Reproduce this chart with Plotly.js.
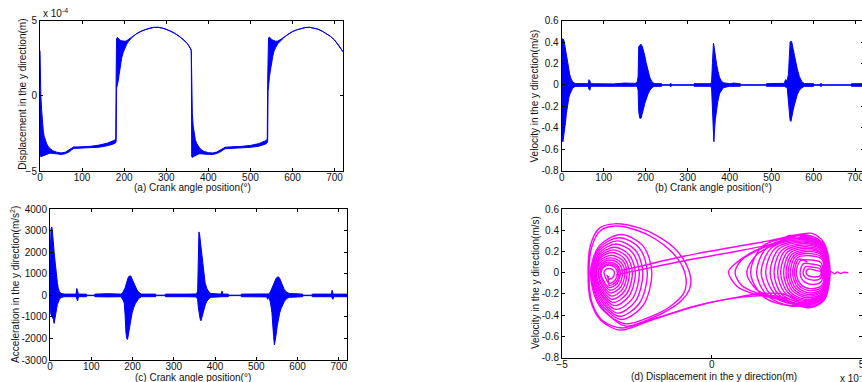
<!DOCTYPE html>
<html><head><meta charset="utf-8">
<script src="https://cdn.plot.ly/plotly-3.0.1.min.js"></script>
<style>html,body{margin:0;padding:0;overflow:hidden;background:#fff;width:862px;height:382px}#plot{width:866px;height:382px}</style>
</head><body><div id="plot"></div>
<script>
// ---------- (a) displacement, units of 1e-4 m (upper / lower envelope of the trace) ----------
const crankA = [0,0.5,2,4,6,8,10,13,16,20,
25,30,40,50,60,70,75,80,90,100,
120,140,160,175,180,181,182,184,186,188,
190,194,198,202,206,210,215,220,230,240,
250,260,270,280,290,300,310,320,330,340,
350,355,358,359.5,360.5,362,364,366,369,372,
376,380,385,390,400,410,420,430,435,440,
450,460,480,500,520,535,540,541,542,543,
545,547,550,553,556,560,565,570,575,580,
590,600,610,620,630,640,650,660,670,680,
690,700,710,720];
const dispUpper = [3.0,1.5,0.0,-1.0,-1.9,-2.4,-2.7,-3.0,-3.2,-3.4,
-3.55,-3.65,-3.75,-3.8,-3.75,-3.6,-3.48,-3.4,-3.4,-3.4,
-3.36,-3.28,-3.15,-2.98,-2.9,1.5,3.8,3.88,3.82,3.75,
3.7,3.65,3.62,3.62,3.66,3.74,3.85,3.95,4.13,4.28,
4.4,4.49,4.54,4.55,4.5,4.42,4.3,4.15,3.98,3.76,
3.47,3.28,3.12,3.02,0.0,-1.2,-2.0,-2.5,-2.9,-3.15,
-3.35,-3.5,-3.62,-3.7,-3.78,-3.8,-3.74,-3.6,-3.5,-3.42,
-3.4,-3.4,-3.36,-3.3,-3.18,-3.0,-2.9,1.0,3.75,3.85,
3.9,3.82,3.75,3.7,3.65,3.62,3.63,3.7,3.8,3.9,
4.1,4.26,4.38,4.47,4.53,4.55,4.51,4.43,4.3,4.14,
3.95,3.7,3.35,2.92];
const dispLower = [-3.9,-4.0,-4.05,-4.05,-4.0,-4.0,-4.0,-3.95,-3.9,-3.85,
-3.82,-3.82,-3.86,-3.9,-3.85,-3.72,-3.6,-3.5,-3.48,-3.47,
-3.45,-3.42,-3.32,-3.2,-3.12,-3.0,0.5,0.8,1.0,1.4,
1.9,2.5,2.9,3.2,3.42,3.6,3.78,3.92,4.13,4.28,
4.4,4.49,4.54,4.55,4.5,4.42,4.3,4.15,3.98,3.76,
3.47,3.28,3.12,3.0,-4.05,-4.1,-4.05,-4.0,-3.95,-3.92,
-3.88,-3.85,-3.84,-3.86,-3.9,-3.9,-3.84,-3.7,-3.6,-3.52,
-3.49,-3.48,-3.46,-3.43,-3.35,-3.22,-3.12,-3.0,0.3,0.8,
1.2,1.6,2.2,2.6,2.95,3.2,3.45,3.62,3.75,3.88,
4.1,4.26,4.38,4.47,4.53,4.55,4.51,4.43,4.3,4.14,
3.95,3.7,3.35,2.92];

// ---------- (b) velocity m/s ----------
const crankB = [0,1,3,5,7,9,11,13,15,17,
19,22,26,32,50,63,65,67,69,90,
110,118,123,150,175,180,182,183.5,186,189,
192,195,198,201,205,210,215,220,238,240,
257,258,261,262,313,315,353,357,359,360,
361.5,362.5,364,366,369,372,376,380,385,400,
410,425,428,485,488,520,530,533,537,540,
542,544,546,548,551,554,557,561,566,572,
578,600,602,615,616,619,620,688,690,720];
const velUpper = [0.40,0.43,0.43,0.42,0.38,0.33,0.28,0.23,0.18,0.14,
0.10,0.06,0.03,0.013,0.012,0.012,0.05,0.04,0.012,0.012,
0.012,0.006,0.01,0.018,0.015,0.03,0.08,0.36,0.37,0.38,
0.36,0.32,0.27,0.21,0.14,0.07,0.03,0.013,0.012,0.002,
0.002,0.012,0.012,0.002,0.002,0.012,0.012,0.025,0.2,0.38,
0.39,0.37,0.32,0.26,0.19,0.13,0.07,0.04,0.02,0.012,
0.018,0.012,0.002,0.002,0.012,0.015,0.015,0.05,0.04,0.1,
0.37,0.4,0.41,0.4,0.34,0.28,0.22,0.15,0.08,0.03,
0.013,0.012,0.002,0.002,0.012,0.012,0.002,0.002,0.012,0.012];
const velLower = [-0.50,-0.52,-0.53,-0.50,-0.42,-0.35,-0.27,-0.21,-0.16,-0.12,
-0.09,-0.06,-0.03,-0.013,-0.012,-0.012,-0.04,-0.05,-0.012,-0.012,
-0.012,-0.006,-0.01,-0.012,-0.012,-0.015,-0.05,-0.25,-0.31,-0.31,
-0.28,-0.22,-0.17,-0.13,-0.09,-0.05,-0.025,-0.013,-0.012,-0.002,
-0.002,-0.012,-0.012,-0.002,-0.002,-0.012,-0.012,-0.025,-0.15,-0.3,
-0.45,-0.53,-0.42,-0.32,-0.22,-0.15,-0.08,-0.05,-0.025,-0.012,
-0.015,-0.012,-0.002,-0.002,-0.012,-0.012,-0.012,-0.02,-0.02,-0.1,
-0.25,-0.33,-0.34,-0.3,-0.24,-0.19,-0.14,-0.09,-0.05,-0.025,
-0.013,-0.012,-0.002,-0.002,-0.012,-0.012,-0.002,-0.002,-0.012,-0.012];

// ---------- (c) acceleration m/s^2 ----------
const crankC = [0,1,2.5,4.5,6.5,8,10,12,14,16,
18,20,23,27,35,63,65,67,69,88,
90,107,109,140,172,176,180,182,184,186,
188,190,193,196,199,203,207,211,216,222,
256,258,278,280,330,355,358,359.5,361,362.5,
364,366,368,370,373,376,380,385,390,415,
417,419,432,434,462,464,525,528,531,535,
538,540,542,544,546,548,551,554,557,560,
564,568,573,580,612,614,634,636,682,684,
686,688,720];
const accUpper = [1500,2600,3100,3180,2900,2500,2000,1550,1150,850,
560,330,170,90,60,60,320,200,60,60,
10,10,60,80,60,120,250,350,480,650,
780,860,900,900,760,560,380,250,130,60,
60,10,10,60,60,70,200,2900,2950,2870,
2600,2200,1800,1350,950,580,330,170,90,60,
200,60,60,10,10,60,70,80,70,200,
350,450,560,650,730,790,850,860,780,620,
420,270,160,90,60,10,10,60,60,240,
80,60,60];
const accLower = [-400,-700,-900,-950,-1050,-1100,-1300,-1250,-900,-620,
-420,-300,-170,-100,-60,-60,-150,-260,-60,-60,
-10,-10,-60,-70,-60,-180,-350,-900,-1700,-2000,
-2050,-1900,-1500,-1150,-820,-560,-380,-240,-120,-60,
-60,-10,-10,-60,-60,-70,-200,-550,-700,-950,
-1100,-1180,-1100,-920,-700,-470,-280,-160,-90,-60,
-60,-60,-60,-10,-10,-60,-70,-180,-70,-400,
-800,-1250,-1900,-2300,-2200,-1850,-1400,-1050,-800,-620,
-430,-280,-160,-90,-60,-10,-10,-60,-60,-120,
-180,-60,-60];

// ---------- (d) phase portrait: displacement (1e-4 m) vs velocity (m/s) ----------
const phaseX = [
 2.9,2.4,1.5,0.7,-0.2,-0.95,-2.06,-3.06,-3.7,-4.05,
 -4.13,-4.05,-3.75,-3.25,-2.4,-1.84,-1.28,-0.89,-0.7,-0.75,
 -1.0,-1.5,-2.2,-3.0,-3.65,-4.0,-4.1,-4.0,-3.7,-3.2,
 -2.5,-1.9,-1.35,-0.98,-0.85,-0.95,-1.4,-2.1,-2.9,
 -3.75,-4.05,-3.75,-3.03,-2.30,-2.0,-2.30,-3.03,
 -3.75,-4.0,-3.75,-3.15,-2.55,-2.3,-2.55,-3.15,
 -3.74,-3.95,-3.74,-3.25,-2.76,-2.55,-2.76,-3.25,
 -3.73,-3.9,-3.73,-3.33,-2.92,-2.75,-2.92,-3.33,
 -3.71,-3.85,-3.71,-3.38,-3.04,-2.9,-3.04,-3.38,
 -3.67,-3.78,-3.67,-3.42,-3.16,-3.05,-3.16,-3.42,
 -3.62,-3.7,-3.62,-3.43,-3.23,-3.15,-3.23,-3.43,
 -3.55,-3.6,-3.55,-3.43,-3.30,-3.25,-3.30,-3.43,-3.5, null,
 3.1,2.2,1.0,-0.5,-1.8,-2.9,
 -3.75,-4.02,-3.75,-3.09,-2.42,-2.15,-2.42,-3.09,
 -3.74,-3.97,-3.74,-3.2,-2.65,-2.42,-2.65,-3.2,
 -3.73,-3.92,-3.73,-3.29,-2.84,-2.65,-2.84,-3.29,
 -3.72,-3.87,-3.72,-3.35,-2.98,-2.83,-2.98,-3.35,
 -3.68,-3.8,-3.68,-3.39,-3.1,-2.98,-3.1,-3.39,
 -3.64,-3.73,-3.64,-3.42,-3.19,-3.1,-3.19,-3.42,-3.45, null,
 -3.05,-2.4,-1.5,-0.5,0.7,1.9,2.9,3.35,
 3.75,3.95,3.75,3.25,2.4,1.3,0.85,0.56,0.85,1.4,2.3,3.1,
 3.7,3.93,3.72,3.2,2.4,1.5,1.0,0.78,1.0,1.6,2.4,3.0,
 3.68,3.92,3.7,3.1,2.2,1.5,1.17,1.5,2.2,
 2.6,3.66,3.93,3.66,2.6,1.7,1.3,1.7,
 2.78,3.68,3.9,3.68,2.78,1.98,1.65,1.98,
 2.92,3.69,3.88,3.69,2.92,2.23,1.95,2.23,
 3.03,3.69,3.86,3.69,3.03,2.44,2.2,2.44,
 3.12,3.70,3.84,3.70,3.12,2.61,2.4,2.61,
 3.19,3.69,3.82,3.69,3.19,2.74,2.55,2.74,
 3.25,3.69,3.8,3.69,3.25,2.86,2.7,2.86,
 3.29,3.67,3.76,3.67,3.29,2.96,2.82,2.96,
 3.34,3.64,3.72,3.64,3.34,3.06,2.95,3.06,
 3.37,3.62,3.68,3.62,3.37,3.14,3.05,3.14,
 3.4,3.6,3.65,3.6,3.4,3.22,3.15,3.22,
 3.5,3.8,3.98,4.1,4.2,4.3,4.42,4.56, null,
 -3.2,-2.0,-0.8,0.8,2.2,3.0,
 3.7,3.94,3.7,2.7,1.85,1.5,1.85,
 2.85,3.7,3.9,3.7,2.85,2.1,1.8,2.1,
 2.98,3.7,3.87,3.7,2.98,2.33,2.08,2.33,
 3.08,3.7,3.85,3.7,3.08,2.53,2.3,2.53,
 3.16,3.7,3.83,3.7,3.16,2.68,2.48,2.68,
 3.22,3.69,3.81,3.69,3.22,2.8,2.62,2.8,
 3.27,3.68,3.78,3.68,3.27,2.91,2.76,2.91,3.2];
const phaseY = [
 -0.27,-0.2,-0.2,-0.24,-0.29,-0.35,-0.45,-0.54,-0.45,-0.26,
 0.0,0.26,0.42,0.46,0.42,0.35,0.24,0.1,-0.06,-0.16,
 -0.26,-0.36,-0.45,-0.52,-0.45,-0.28,0.0,0.25,0.4,0.44,
 0.4,0.32,0.2,0.06,-0.1,-0.2,-0.32,-0.42,-0.48,
 -0.311,0,0.255,0.36,0.255,0,-0.311,-0.44,
 -0.269,0,0.212,0.30,0.212,0,-0.269,-0.38,
 -0.219,0,0.17,0.24,0.17,0,-0.219,-0.31,
 -0.177,0,0.134,0.19,0.134,0,-0.177,-0.25,
 -0.134,0,0.099,0.14,0.099,0,-0.134,-0.19,
 -0.099,0,0.071,0.10,0.071,0,-0.099,-0.14,
 -0.071,0,0.05,0.07,0.05,0,-0.071,-0.10,
 -0.042,0,0.028,0.04,0.028,0,-0.042,-0.06,-0.02, null,
 -0.3,-0.22,-0.23,-0.31,-0.42,-0.5,
 -0.29,0,0.233,0.33,0.233,0,-0.29,-0.41,
 -0.244,0,0.191,0.27,0.191,0,-0.244,-0.345,
 -0.198,0,0.152,0.215,0.152,0,-0.198,-0.28,
 -0.156,0,0.117,0.165,0.117,0,-0.156,-0.22,
 -0.117,0,0.085,0.12,0.085,0,-0.117,-0.165,
 -0.085,0,0.06,0.085,0.06,0,-0.085,-0.12,-0.03, null,
 0.02,0.06,0.12,0.18,0.24,0.3,0.36,0.37,
 0.28,0,-0.26,-0.33,-0.26,-0.19,-0.13,0.01,0.1,0.2,0.3,0.36,
 0.28,0,-0.26,-0.32,-0.25,-0.19,-0.12,0,0.12,0.22,0.31,0.35,
 0.27,0,-0.25,-0.31,-0.24,-0.16,0,0.17,0.28,
 0.35,0.27,0,-0.24,-0.31,-0.22,0,0.25,
 0.33,0.26,0,-0.24,-0.3,-0.21,0,0.23,
 0.31,0.25,0,-0.23,-0.29,-0.205,0,0.22,
 0.29,0.23,0,-0.22,-0.27,-0.19,0,0.205,
 0.26,0.21,0,-0.2,-0.25,-0.177,0,0.184,
 0.23,0.184,0,-0.176,-0.22,-0.156,0,0.163,
 0.2,0.16,0,-0.152,-0.19,-0.134,0,0.141,
 0.16,0.128,0,-0.12,-0.15,-0.106,0,0.113,
 0.12,0.096,0,-0.088,-0.11,-0.078,0,0.085,
 0.08,0.064,0,-0.056,-0.07,-0.05,0,0.057,
 0.05,0.04,0,-0.032,-0.04,-0.028,0,0.035,
 0.02,0.005,0.01,-0.01,0.008,-0.008,0.004,0.0, null,
 -0.02,0.05,0.12,0.2,0.28,0.33,
 0.265,0,-0.245,-0.315,-0.215,0,0.24,
 0.32,0.25,0,-0.235,-0.295,-0.2,0,0.225,
 0.3,0.24,0,-0.225,-0.28,-0.2,0,0.21,
 0.275,0.22,0,-0.21,-0.26,-0.183,0,0.195,
 0.245,0.196,0,-0.19,-0.235,-0.166,0,0.173,
 0.215,0.172,0,-0.165,-0.205,-0.145,0,0.152,
 0.18,0.144,0,-0.136,-0.17,-0.12,0,0.127,0.1];

const crankTicks = [0,100,200,300,400,500,600,700];

// ---------- build ----------
const W = 866, H = 382;
const BLUE = '#0000ff', MAG = '#ff00ff';
function band(x, up, lo, xa, ya) {
  return {
    type: 'scatter', mode: 'lines',
    x: x.concat(x.slice().reverse()),
    y: up.concat(lo.slice().reverse()),
    fill: 'toself', fillcolor: BLUE,
    line: {color: BLUE, width: 1},
    xaxis: xa, yaxis: ya, hoverinfo: 'skip', showlegend: false
  };
}
const traces = [
  band(crankA, dispUpper, dispLower, 'x', 'y'),
  band(crankB, velUpper, velLower, 'x2', 'y2'),
  band(crankC, accUpper, accLower, 'x3', 'y3'),
  {type: 'scatter', mode: 'lines', x: phaseX, y: phaseY,
   line: {color: MAG, width: 1.4, shape: 'spline', smoothing: 0.9},
   connectgaps: false, xaxis: 'x4', yaxis: 'y4', hoverinfo: 'skip', showlegend: false}
];
const FONT = 'Liberation Sans, Arial, Helvetica, sans-serif';
function ax(extra) {
  return Object.assign({
    showline: true, linecolor: '#000', linewidth: 1, mirror: 'ticks',
    ticks: 'inside', ticklen: 3, tickwidth: 1, tickcolor: '#000',
    showgrid: false, zeroline: false, fixedrange: true,
    tickfont: {family: FONT, size: 10, color: '#111'}
  }, extra);
}
function px(v) { return v / W; }
function py(v) { return 1 - v / H; }
const XT = {ticklabelstandoff: -3};
const layout = {
  width: W, height: H, margin: {l: 0, r: 0, t: 0, b: 0},
  paper_bgcolor: '#fff', plot_bgcolor: '#fff', showlegend: false,
  font: {family: FONT, size: 10, color: '#111'},
  xaxis:  ax(Object.assign({domain: [px(40), px(343)], anchor: 'y', range: [0, 720], tickvals: crankTicks}, XT)),
  yaxis:  ax({domain: [py(171), py(20.5)], anchor: 'x', range: [-5, 5], tickvals: [-5, 0, 5]}),
  xaxis2: ax(Object.assign({domain: [px(561.7), px(864)], anchor: 'y2', range: [0, 720], tickvals: crankTicks}, XT)),
  yaxis2: ax({domain: [py(170.7), py(20.7)], anchor: 'x2', range: [-0.8, 0.6], tickvals: [-0.8,-0.6,-0.4,-0.2,0,0.2,0.4,0.6], ticktext: ['-0.8','-0.6','-0.4','-0.2','0','0.2','0.4','0.6']}),
  xaxis3: ax(Object.assign({domain: [px(50), px(347)], anchor: 'y3', range: [0, 720], tickvals: crankTicks}, XT)),
  yaxis3: ax({domain: [py(360), py(209.3)], anchor: 'x3', range: [-3000, 4000], tickvals: [-3000,-2000,-1000,0,1000,2000,3000,4000], ticktext: ['-3000','-2000','-1000','0','1000','2000','3000','4000']}),
  xaxis4: ax(Object.assign({domain: [px(562), px(861.5)], anchor: 'y4', range: [-5, 5], tickvals: [-5, 0, 5]}, XT)),
  yaxis4: ax({domain: [py(357.7), py(209)], anchor: 'x4', range: [-0.8, 0.6], tickvals: [-0.8,-0.6,-0.4,-0.2,0,0.2,0.4,0.6], ticktext: ['-0.8','-0.6','-0.4','-0.2','0','0.2','0.4','0.6']}),
  annotations: [
    {text: '(a) Crank angle position(°)', x: px(192.5), y: py(187)},
    {text: '(b) Crank angle position(°)', x: px(713), y: py(187)},
    {text: '(c) Crank angle position(°)', x: px(193), y: py(377)},
    {text: '(d) Displacement in the y direction(m)', x: px(714), y: py(376)},
    {text: 'Displacement in the y direction(m)', x: px(21.7), y: py(94), textangle: -90},
    {text: 'Velocity in the y direction(m/s)', x: px(533.5), y: py(96), textangle: -90},
    {text: 'Acceleration in the y direction(m/s<sup>2</sup>)', x: px(15), y: py(285), textangle: -90},
    {text: 'Velocity in the y direction(m/s)', x: px(535), y: py(283), textangle: -90},
    {text: 'x 10<sup>-4</sup>', x: px(41), y: py(13), xanchor: 'left'},
    {text: 'x 10<sup>-4</sup>', x: px(838), y: py(378), xanchor: 'left'}
  ].map(a => Object.assign({xref: 'paper', yref: 'paper', showarrow: false, xanchor: 'center', yanchor: 'middle',
                             font: {family: FONT, size: 10, color: '#111'}}, a))
};
Plotly.newPlot('plot', traces, layout, {staticPlot: true, displayModeBar: false});
</script>
</body></html>
